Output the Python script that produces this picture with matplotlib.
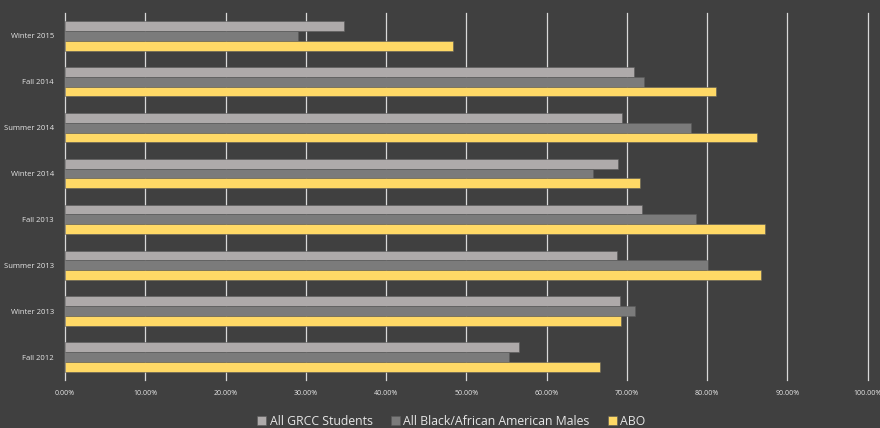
import matplotlib.pyplot as plt
import matplotlib.ticker as mticker
import numpy as np

# Data (percent)
terms = ["Fall 2012", "Winter 2013", "Summer 2013", "Fall 2013",
         "Winter 2014", "Summer 2014", "Fall 2014", "Winter 2015"]
all_grcc = [56.6, 69.1, 68.8, 71.9, 68.9, 69.4, 70.9, 34.8]
black_males = [55.3, 71.0, 80.0, 78.6, 65.8, 78.0, 72.1, 29.0]
abo = [66.7, 69.3, 86.7, 87.2, 71.7, 86.2, 81.1, 48.4]

series_names = ["All GRCC Students", "All Black/African American Males", "ABO"]

BG = "#404040"
COLORS = ["#aeaaaa", "#7b7b7b", "#ffd966"]
GRID = "#d9d9d9"
TEXT = "#e6e6e6"

plt.rcParams['font.family'] = ['Open Sans', 'DejaVu Sans']

fig = plt.figure(figsize=(8.8, 4.28), dpi=100, facecolor=BG)
ax = fig.add_axes([0.0739, 0.112, 0.912, 0.858], facecolor=BG)

y = np.arange(len(terms))
h = 0.215
for i, (vals, name) in enumerate(zip([all_grcc, black_males, abo], series_names)):
    ax.barh(y + h - i * h, vals, height=h, color=COLORS[i], label=name,
            edgecolor="#5a5a5a", linewidth=0.4, zorder=3)

ax.set_xlim(0, 100)
ax.set_ylim(-0.5, len(terms) - 0.5)
ax.set_xticks(np.arange(0, 101, 10))
ax.xaxis.set_major_formatter(mticker.FuncFormatter(lambda v, p: f"{v:.2f}%"))
ax.set_yticks(y)
ax.set_yticklabels(terms)
ax.tick_params(axis='x', colors=TEXT, labelsize=5, length=0, pad=7)
ax.tick_params(axis='y', colors=TEXT, labelsize=5.5, length=0, pad=8)
ax.grid(axis='x', color=GRID, linewidth=0.9, zorder=0)
for gl in ax.get_xgridlines():
    gl.set_clip_on(False)
for s in ax.spines.values():
    s.set_visible(False)

leg = fig.legend(loc='lower center', bbox_to_anchor=(0.513, -0.025), ncol=3,
                 frameon=False, fontsize=8.8, handlelength=0.7, handleheight=0.7,
                 handletextpad=0.3, columnspacing=1.5)
for t in leg.get_texts():
    t.set_color(TEXT)

fig.savefig("out.png", dpi=100, facecolor=BG)
